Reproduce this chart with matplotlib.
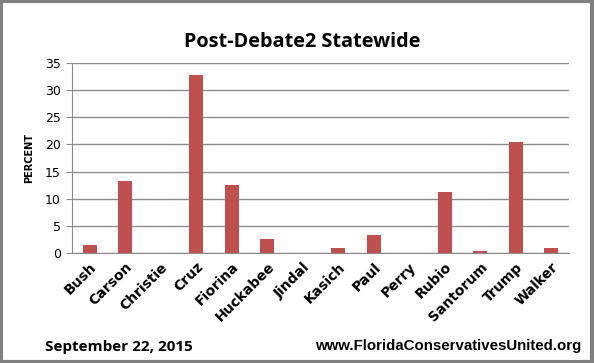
import matplotlib
matplotlib.use("Agg")
import matplotlib.pyplot as plt
from matplotlib.patches import Rectangle
import numpy as np

candidates = ["Bush", "Carson", "Christie", "Cruz", "Fiorina", "Huckabee", "Jindal",
              "Kasich", "Paul", "Perry", "Rubio", "Santorum", "Trump", "Walker"]
percent = [1.5, 13.2, 0.0, 32.7, 12.6, 2.5, 0.0, 1.0, 3.4, 0.0, 11.3, 0.4, 20.5, 1.0]
y_ticks = [0, 5, 10, 15, 20, 25, 30, 35]

W, H = 594, 363
fig = plt.figure(figsize=(W / 100, H / 100), dpi=100)
fig.patch.set_facecolor("white")

# plot area in pixel coords: left 72, right 569, top 63, bottom 253
ax = fig.add_axes([72 / W, 1 - 253 / H, (569 - 72) / W, (253 - 63) / H])

x = np.arange(len(candidates))
ax.bar(x, percent, width=0.4, color="#C0504D", zorder=3)

ax.set_xlim(-0.5, len(candidates) - 0.5)
ax.set_ylim(0, 35)
ax.set_yticks(y_ticks)
ax.set_yticklabels([str(v) for v in y_ticks], fontsize=9, family="DejaVu Sans")
ax.yaxis.grid(True, color="#8c8c8c", linewidth=1, zorder=0)

ax.set_xticks(x)
ax.set_xticklabels(candidates, rotation=45, ha="right", rotation_mode="anchor",
                   fontsize=10, fontweight="bold", family="DejaVu Sans")
ax.tick_params(axis="x", length=0, pad=5)
ax.tick_params(axis="y", length=4, color="#8c8c8c", pad=4)

for side in ["top", "right"]:
    ax.spines[side].set_visible(False)
ax.spines["left"].set_color("#8c8c8c")
ax.spines["bottom"].set_color("#8c8c8c")

ax.set_ylabel("PERCENT", fontsize=7, fontweight="bold", labelpad=8)

fig.text(302 / W, 1 - 42 / H, "Post-Debate2 Statewide", ha="center", va="center",
         fontsize=14.3, fontweight="bold", family="Open Sans")
fig.text(45 / W, 1 - 347 / H, "September 22, 2015", ha="left", va="center",
         fontsize=11, fontweight="bold", family="Open Sans")
fig.text(581 / W, 1 - 346 / H, "www.FloridaConservativesUnited.org", ha="right",
         va="center", fontsize=10.8, fontweight="bold", family="Liberation Sans")

# gray frame around the image
fig.patches.append(Rectangle((0.002, 0.003), 0.995, 0.993, transform=fig.transFigure,
                             fill=False, edgecolor="#808080", linewidth=3))

fig.savefig("out.png", dpi=100)
